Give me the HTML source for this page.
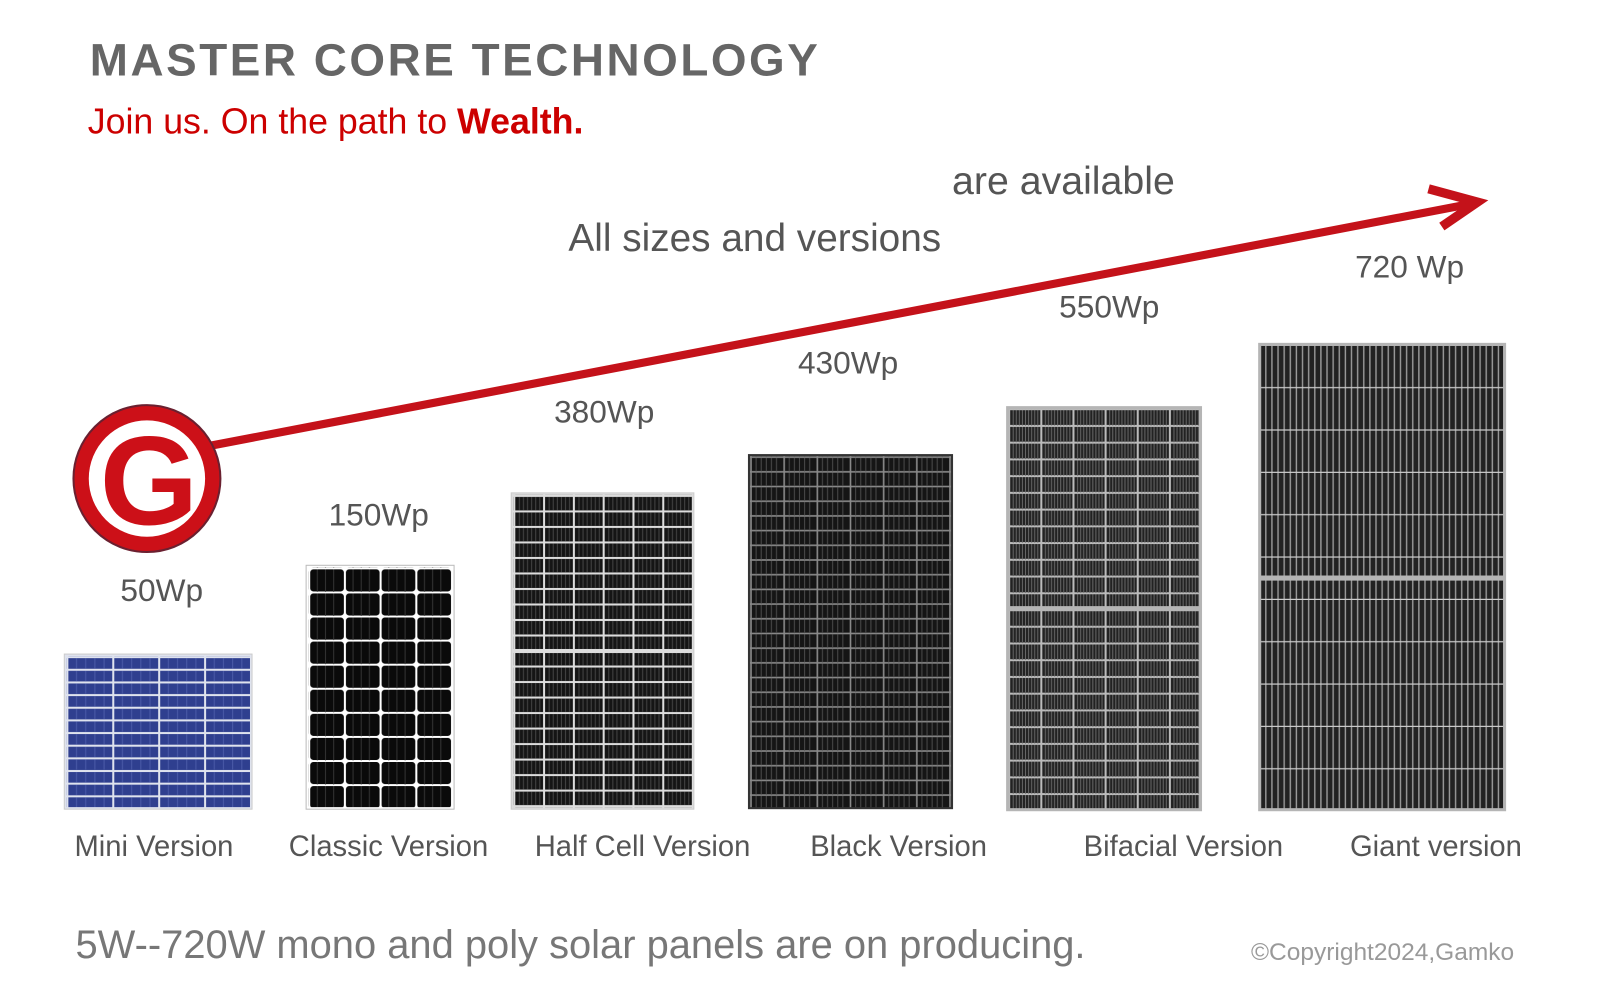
<!DOCTYPE html>
<html><head><meta charset="utf-8"><style>
html,body{margin:0;padding:0;background:#fff;}
body{width:1600px;height:991px;overflow:hidden;position:relative;font-family:"Liberation Sans",sans-serif;}
#w{position:absolute;left:0;top:0;width:1568px;height:971px;transform:scale(1.0204);transform-origin:0 0;}
.t{position:absolute;white-space:nowrap;color:#555;line-height:1.15;}
</style></head><body><div id="w">
<svg width="1568" height="971" style="position:absolute;left:0;top:0">
<defs>
<pattern id="pBlue" x="66" y="644" width="45" height="12.4" patternUnits="userSpaceOnUse">
<rect width="45" height="12.4" fill="#dfe3ee"/><rect x="1" y="1" width="43" height="10.4" fill="#2f3f8f"/>
<path d="M9 1v10M18 1v10M27 1v10M36 1v10" stroke="#4a5aa8" stroke-width="1"/>
</pattern>
<pattern id="pClassic" x="303" y="557" width="35" height="23.6" patternUnits="userSpaceOnUse">
<rect width="35" height="23.6" fill="#fff"/><rect x="1" y="1" width="33" height="21.6" rx="3" fill="#0a0a0a"/>
<path d="M8 1v22M16 1v22M24 1v22" stroke="#333" stroke-width="1"/>
</pattern>
<pattern id="pHalf" x="504" y="486" width="29.2" height="15.2" patternUnits="userSpaceOnUse">
<rect width="29.2" height="15.2" fill="#ddd"/><rect x="1" y="1" width="27.2" height="13.2" fill="#151515"/>
<path d="M5 1v13M9 1v13M13 1v13M17 1v13M21 1v13M25 1v13" stroke="#444" stroke-width="1"/>
</pattern>
<pattern id="pBlack" x="736" y="448" width="32.5" height="14.4" patternUnits="userSpaceOnUse">
<rect width="32.5" height="14.4" fill="#8a8a8a"/><rect x="0.8" y="0.8" width="30.9" height="12.8" fill="#151515"/>
<path d="M5 1v13M10 1v13M15 1v13M20 1v13M25 1v13" stroke="#4a4a4a" stroke-width="1"/>
</pattern>
<pattern id="pBif" x="989" y="401" width="31.5" height="16.4" patternUnits="userSpaceOnUse">
<rect width="31.5" height="16.4" fill="#bbb"/><rect x="1" y="1" width="29.5" height="14.4" fill="#222"/>
<path d="M4 1v15M7 1v15M10 1v15M13 1v15M16 1v15M19 1v15M22 1v15M25 1v15M28 1v15" stroke="#666" stroke-width="1"/>
</pattern>
<pattern id="pGiant" x="1236" y="339" width="6" height="41.5" patternUnits="userSpaceOnUse">
<rect width="6" height="41.5" fill="#222"/><rect x="3.8" width="1.4" height="41.5" fill="#999"/>
<rect y="40.3" width="6" height="1.2" fill="#ccc"/>
</pattern>
</defs>
<rect x="63" y="641" width="184" height="152" fill="#dfe3ee" stroke="#ccc"/>
<rect x="65" y="643" width="180" height="148" fill="url(#pBlue)"/>
<rect x="300" y="554" width="145" height="239" fill="#fff" stroke="#bbb"/>
<rect x="302" y="556" width="141" height="235" fill="url(#pClassic)"/>
<rect x="501" y="483" width="179" height="310" fill="#ddd" stroke="#ccc"/>
<rect x="503" y="485" width="175" height="151" fill="url(#pHalf)"/>
<rect x="503" y="640" width="175" height="151" fill="url(#pHalf)"/>
<rect x="733" y="445" width="201" height="348" fill="#333"/>
<rect x="735" y="447" width="197" height="344" fill="url(#pBlack)"/>
<rect x="986" y="398" width="192" height="397" fill="#b5b5b5"/>
<rect x="989" y="401" width="186" height="193" fill="url(#pBif)"/>
<rect x="989" y="599" width="186" height="193" fill="url(#pBif)"/>
<rect x="1233" y="336" width="243" height="459" fill="#b5b5b5"/>
<rect x="1236" y="339" width="237" height="225" fill="url(#pGiant)"/>
<rect x="1236" y="569" width="237" height="223" fill="url(#pGiant)"/>
<line x1="200" y1="438" x2="1440" y2="200" stroke="#c4121a" stroke-width="8"/>
<path d="M1400 185 L1448 198 L1413 222" fill="none" stroke="#c4121a" stroke-width="9" stroke-linejoin="miter"/>
<circle cx="144" cy="469" r="72" fill="#cc1018" stroke="#6a2030" stroke-width="2"/>
<circle cx="144" cy="469" r="57" fill="#fff"/>
<text x="146" y="514" text-anchor="middle" font-family="Liberation Sans" font-weight="bold" font-size="124" fill="#cc1018">G</text>
</svg>
<div class="t" style="left:88px;top:33px;font-size:44.9px;font-weight:bold;color:#666;letter-spacing:2.5px">MASTER CORE TECHNOLOGY</div>
<div class="t" style="left:86px;top:100px;font-size:35px;color:#c00">Join us. On the path to <b>Wealth.</b></div>
<div class="t" style="left:933px;top:156px;font-size:38.5px">are available</div>
<div class="t" style="left:557px;top:213px;font-size:38px">All sizes and versions</div>
<div class="t" style="left:1328px;top:244px;font-size:31px">720 Wp</div>
<div class="t" style="left:1038px;top:283px;font-size:31px">550Wp</div>
<div class="t" style="left:782px;top:338px;font-size:31px">430Wp</div>
<div class="t" style="left:543px;top:386px;font-size:31px">380Wp</div>
<div class="t" style="left:322px;top:487px;font-size:31px">150Wp</div>
<div class="t" style="left:118px;top:561px;font-size:31px">50Wp</div>
<div class="t" style="left:73px;top:814px;font-size:28.6px">Mini Version</div>
<div class="t" style="left:283px;top:814px;font-size:28.6px">Classic Version</div>
<div class="t" style="left:524px;top:814px;font-size:28.6px">Half Cell Version</div>
<div class="t" style="left:794px;top:814px;font-size:28.6px">Black Version</div>
<div class="t" style="left:1062px;top:814px;font-size:28.6px">Bifacial Version</div>
<div class="t" style="left:1323px;top:814px;font-size:28.6px">Giant version</div>
<div class="t" style="left:74px;top:905px;font-size:39.1px;color:#777">5W--720W mono and poly solar panels are on producing.</div>
<div class="t" style="left:1226px;top:920px;font-size:24px;color:#999">©Copyright2024,Gamko</div>
</div></body></html>
